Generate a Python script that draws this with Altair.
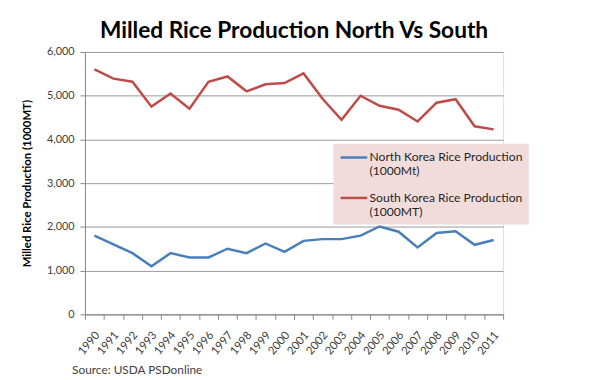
import altair as alt
import pandas as pd

years = [str(y) for y in range(1990, 2012)]
north = [1800, 1600, 1400, 1100, 1400, 1300, 1300, 1500, 1400, 1620, 1430,
         1680, 1720, 1720, 1800, 2010, 1890, 1530, 1860, 1900, 1590, 1700]
south = [5600, 5390, 5320, 4750, 5050, 4700, 5320, 5440, 5100, 5260, 5290,
         5510, 4930, 4450, 5000, 4770, 4680, 4410, 4840, 4920, 4300, 4230]
series = ["North Korea Rice Production (1000Mt)", "South Korea Rice Production (1000MT)"]
colors = ["#4a7ebb", "#be4b48"]

rows = []
for y, n, s in zip(years, north, south):
    rows.append({"year": y, "series": series[0], "value": n})
    rows.append({"year": y, "series": series[1], "value": s})
df = pd.DataFrame(rows)

W, H = 424, 266
FONT = "Lato"

lines = alt.Chart(df).mark_line(strokeWidth=2.5).encode(
    x=alt.X("year:O", bandPosition=0.5,
            scale=alt.Scale(type="band", paddingInner=0, paddingOuter=0),
            axis=alt.Axis(title=None, labelAngle=-50, labelAlign="right", labelBaseline="middle",
                          tickBand="extent", labelOffset=3,
                          labelFontSize=11.5, labelColor="#404040", labelFont=FONT,
                          domainColor="#868686", tickColor="#868686", tickSize=5,
                          labelPadding=14, grid=False)),
    y=alt.Y("value:Q", scale=alt.Scale(domain=[0, 6000]),
            axis=alt.Axis(title="Milled Rice Production (1000MT)", values=[0, 1000, 2000, 3000, 4000, 5000, 6000],
                          format=",.0f", labelFontSize=11, labelColor="#404040", labelFont=FONT,
                          titleFont=FONT, titleFontSize=11.5, titleFontWeight="bold", titleColor="#000000",
                          titlePadding=14, domainColor="#868686", tickColor="#868686", tickSize=5,
                          gridColor="#999999", gridWidth=1, labelPadding=6)),
    color=alt.Color("series:N", scale=alt.Scale(domain=series, range=colors),
                    legend=alt.Legend(title=None, orient="none", legendX=252, legendY=93,
                                      fillColor="#f2dcdb", padding=6, symbolType="M-1,0H3",
                                      symbolSize=182, symbolStrokeWidth=2.5,
                                      labelFont=FONT, labelFontSize=12.3, labelColor="#262626",
                                      labelExpr="[slice(datum.label,0,indexof(datum.label,' (')), slice(datum.label,indexof(datum.label,' (')+1)]",
                                      labelBaseline="middle", labelOffset=14.5, rowPadding=12,
                                      labelLimit=300)),
)

source = alt.Chart(pd.DataFrame({"t": ["Source: USDA PSDonline"]})).mark_text(
    align="left", baseline="middle", font=FONT, fontSize=12, color="#404040"
).encode(text="t:N", x=alt.value(-13), y=alt.value(H + 57))

chart = alt.layer(lines, source).properties(
    width=W, height=H,
    title=alt.TitleParams("Milled Rice Production North Vs South", font=FONT, fontSize=23,
                          fontWeight="bold", color="#000000", anchor="middle", offset=3),
    autosize=alt.AutoSizeParams(type="none"),
    padding={"left": 78, "top": 42, "right": 82, "bottom": 64},
).configure_view(stroke=None).configure(
    background="white",
    style={"guide-label": {"lineHeight": 14}},
)

chart.save("out.html", embed_options={"renderer": "svg", "actions": False})
